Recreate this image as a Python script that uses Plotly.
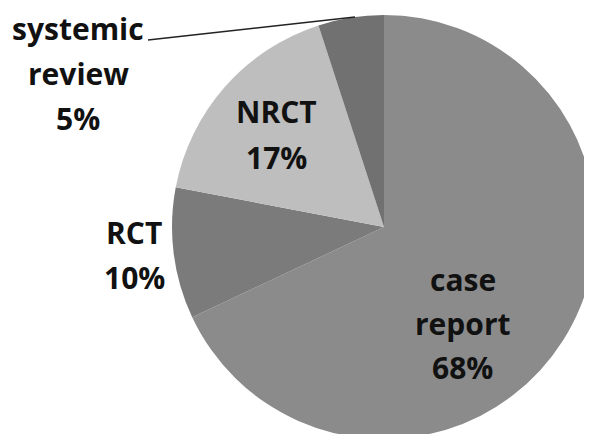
import plotly.graph_objects as go

labels = ["case report", "RCT", "NRCT", "systemic review"]
values = [68, 10, 17, 5]
colors = ["#8b8b8b", "#7b7b7b", "#bebebe", "#717171"]

W, H = 592, 434
OFF = 8  # page body margin offset of the rendered figure
total = sum(values)
pcts = [round(v * 100 / total) for v in values]

# pie centre / radius in screen pixels
CX, CY, R = 384, 227, 212
fx, fy = CX - OFF, CY - OFF
fig = go.Figure(go.Pie(
    labels=labels, values=values, sort=False, direction="clockwise", rotation=0,
    marker=dict(colors=colors, line=dict(width=0)),
    textinfo="none", hoverinfo="label+percent", showlegend=False,
    domain=dict(x=[(fx - R) / W, (fx + R) / W],
                y=[(H - (fy + R)) / H, (H - (fy - R)) / H]),
))


def px(x):
    return (x - OFF) / W


def py(y):
    return (H - (y - OFF)) / H


# label placement in screen px: (center x, first baseline, line spacing)
label_pos = {
    "case report": (463, 290, 44),
    "RCT": (134, 243, 45),
    "NRCT": (276, 122, 46),
    "systemic review": (78, 39, 45),
}
FS = 30
for lab, p in zip(labels, pcts):
    cx, by, sp = label_pos[lab]
    lines = lab.split(" ") + [f"{p}%"]
    for i, ln in enumerate(lines):
        base = by + i * sp
        fig.add_annotation(
            x=px(cx), y=py(base - 0.36 * FS), xref="paper", yref="paper",
            text=f"<b>{ln}</b>", showarrow=False, xanchor="center", yanchor="middle",
            font=dict(family="Open Sans", size=FS, color="#111111"),
        )

fig.add_shape(type="line", xref="paper", yref="paper",
              x0=px(148), y0=py(40), x1=px(355), y1=py(17),
              line=dict(color="#222222", width=1.5))

fig.update_layout(width=W, height=H, margin=dict(l=0, r=0, t=0, b=0),
                  paper_bgcolor="white", plot_bgcolor="white")
fig.write_html("out.html")
